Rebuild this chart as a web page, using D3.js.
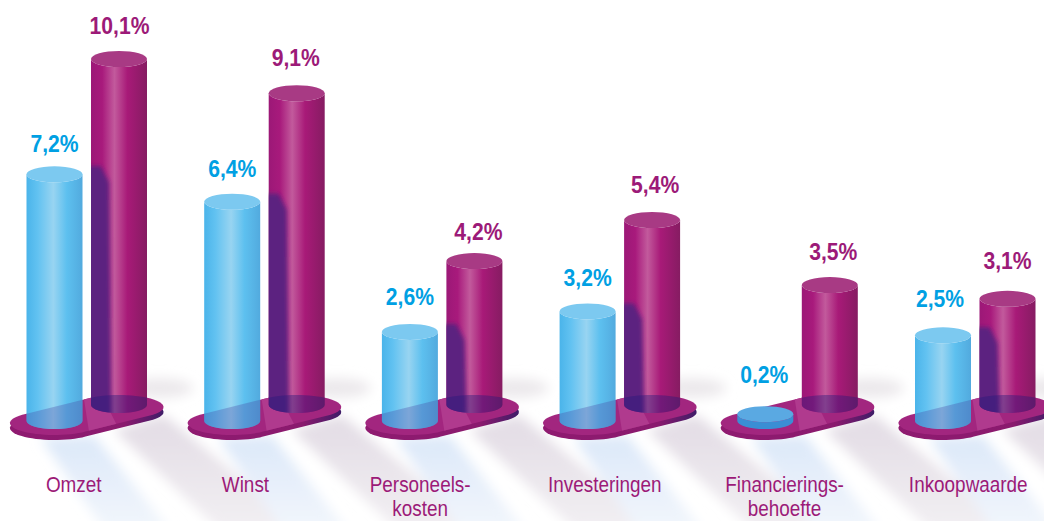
<!DOCTYPE html>
<html>
<head>
<meta charset="utf-8">
<script src="https://cdn.jsdelivr.net/npm/d3@7"></script>
<style>
  html, body { margin: 0; padding: 0; background: #fff; overflow: hidden; }
  svg { display: block; }
  text { text-anchor: middle; }
  .value { font: bold 24px "Liberation Sans", sans-serif; }
  .label { font: 22px "Liberation Sans", sans-serif; fill: #9c1a78; }
</style>
</head>
<body>
<div id="chart"></div>
<script>
const categories = ['Omzet', 'Winst', 'Personeels-|kosten', 'Investeringen', 'Financierings-|behoefte', 'Inkoopwaarde'];
const blueValues = [7.2, 6.4, 2.6, 3.2, 0.2, 2.5];
const purpleValues = [10.1, 9.1, 4.2, 5.4, 3.5, 3.1];

const width = 1044;
const height = 521;
const radius = 28;
const radiusY = 8;
const barGap = 32.25;
const blueFloor = 421;
const purpleFloor = 405;

// hand placed in the original, so nothing lines up exactly
const labelNudge = [-13, -19, -22, -15, -13, -7];
const blueTextNudge = [[0, -22], [0, -25], [0, -27], [0, -25], [-1, -31], [-3, -28]];
const purpleTextNudge = [[0.5, -25.5], [-1, -27], [4, -21], [3, -27], [3.5, -25], [0, -30]];

let fmt = v => `${String(v).replace('.', ',')}%`;

let svg = d3.select('#chart').append('svg')
  .attr('width', width)
  .attr('height', height);

let groupX = d3.scaleBand().domain(categories).range([-2.1, 1064.1]);
let barHeight = d3.scaleLinear().domain([0, 10.1]).range([0, 346]);

let center = d => groupX(d) + groupX.bandwidth() / 2;

let defs = svg.append('defs');

function addStops(gradient, stops) {
  gradient.selectAll('stop').data(stops).enter().append('stop')
    .attr('offset', d => d[0])
    .attr('stop-color', d => d[1]);
}
function hGradient(id, stops) {
  addStops(defs.append('linearGradient').attr('id', id), stops);
}
// shadows fade towards the bottom of the page
function shadowGradient(id, stops) {
  addStops(defs.append('linearGradient').attr('id', id)
    .attr('gradientUnits', 'userSpaceOnUse')
    .attr('x1', 0).attr('x2', 0).attr('y1', 430).attr('y2', height), stops);
}
hGradient('blueBody', [[0, '#4ab4ea'], [0.2, '#62c2f1'], [0.48, '#98d4f1'], [0.72, '#5dc0ef'], [1, '#52aade']]);
hGradient('purpleBody', [[0, '#9c1877'], [0.2, '#a81a7c'], [0.42, '#c25a9c'], [0.65, '#a81a78'], [1, '#861c62']]);
hGradient('baseSide', [[0, '#8f1a70'], [0.75, '#8a1a6e'], [1, '#3f1c68']]);
shadowGradient('blueShadow', [[0, '#dae7f8'], [1, '#f0f5fc']]);
shadowGradient('greyShadow', [[0, '#e4dee6'], [1, '#f1eef2']]);

defs.append('filter').attr('id', 'blur').attr('x', '-30%').attr('y', '-30%').attr('width', '160%').attr('height', '160%')
  .append('feGaussianBlur').attr('stdDeviation', 6);
defs.append('filter').attr('id', 'softEdge').attr('x', '-30%').attr('y', '-10%').attr('width', '160%').attr('height', '120%')
  .append('feGaussianBlur').attr('stdDeviation', 2);

function ellipsePoints(cx, cy, rx, ry) {
  return d3.range(0, 2 * Math.PI, 0.1).map(a => [cx + rx * Math.cos(a), cy + ry * Math.sin(a)]);
}

function basePath(i, shift) {
  let c = center(categories[i]);
  let pts = ellipsePoints(c - barGap, blueFloor + 2 + shift, 44.5, 12)
    .concat(ellipsePoints(c + barGap, purpleFloor + 2 + shift, 44.5, 12));
  return d3.line()(d3.polygonHull(pts)) + 'Z';
}

function cylinderPath(cx, floor, h) {
  let top = floor - h;
  return `M${cx - radius},${top} L${cx - radius},${floor} A${radius},${radiusY} 0 0 0 ${cx + radius},${floor} L${cx + radius},${top} A${radius},${radiusY} 0 0 1 ${cx - radius},${top} Z`;
}

// ground shadows first, they run under the next group
let shadows = svg.append('g').attr('filter', 'url(#blur)');
categories.forEach(d => {
  let c = center(d);
  let bx = c - barGap;
  let px = c + barGap;
  shadows.append('path')
    .attr('d', d3.line()([[bx - 14, 438], [bx + 40, 436], [bx + 115, 530], [bx + 50, 530]]))
    .attr('fill', 'url(#blueShadow)');
  shadows.append('path')
    .attr('d', d3.line()([[px - 5, 430], [px + 45, 415], [px + 185, 530], [px + 100, 530]]))
    .attr('fill', 'url(#greyShadow)');
  shadows.append('ellipse')
    .attr('cx', px + 40).attr('cy', 388).attr('rx', 34).attr('ry', 10)
    .attr('fill', '#ece9ec');
});

let groups = svg.selectAll('.group')
  .data(categories)
  .enter().append('g')
  .attr('class', 'group');

groups.each(function(d, i) {
  let g = d3.select(this);
  let c = center(d);
  let bx = c - barGap;
  let px = c + barGap;
  let bh = barHeight(blueValues[i]);
  let ph = barHeight(purpleValues[i]);

  defs.append('clipPath').attr('id', `purpleClip${i}`)
    .append('path').attr('d', cylinderPath(px, purpleFloor, ph) + ` M${px - radius},${purpleFloor - ph} A${radius},${radiusY} 0 0 1 ${px + radius},${purpleFloor - ph} A${radius},${radiusY} 0 0 1 ${px - radius},${purpleFloor - ph} Z`);
  defs.append('clipPath').attr('id', `baseClip${i}`)
    .append('path').attr('d', basePath(i, 0));

  // plate with the lighter band between the bars
  g.append('path').attr('d', basePath(i, 5)).attr('fill', 'url(#baseSide)');
  g.append('path').attr('d', basePath(i, 0)).attr('fill', '#a2267f');
  g.append('g').attr('clip-path', `url(#baseClip${i})`)
    .append('path')
    .attr('d', d3.line()([[bx + 28, purpleFloor - 15], [px - 20, purpleFloor - 15], [px + 6, blueFloor + 20], [bx + 36, blueFloor + 20]]))
    .attr('fill', '#b03a8e');

  // purple bar
  g.append('path').attr('d', cylinderPath(px, purpleFloor, ph)).attr('fill', 'url(#purpleBody)');
  if (blueValues[i] > 1) {
    g.append('g').attr('clip-path', `url(#purpleClip${i})`)
      .append('path')
      .attr('d', d3.line()([[px - radius - 8, blueFloor - bh - 8], [px - radius + 10, blueFloor - bh - 8], [px - 10, blueFloor - bh + 8], [px - 8, purpleFloor + 12], [px - radius - 8, purpleFloor + 12]]))
      .attr('fill', '#5c2080')
      .attr('filter', 'url(#softEdge)');
  }
  g.append('ellipse')
    .attr('cx', px).attr('cy', purpleFloor - ph).attr('rx', radius).attr('ry', radiusY)
    .attr('fill', '#a83a84');
  // foot of the purple bar where the plate shows through
  g.append('g').attr('clip-path', `url(#baseClip${i})`)
    .append('path').attr('d', cylinderPath(px, purpleFloor, ph))
    .attr('fill', '#241a7a').attr('opacity', 0.4);

  // blue bar
  if (blueValues[i] > 1) {
    g.append('path').attr('d', cylinderPath(bx, blueFloor, bh)).attr('fill', 'url(#blueBody)');
    g.append('ellipse')
      .attr('cx', bx).attr('cy', blueFloor - bh).attr('rx', radius).attr('ry', radiusY)
      .attr('fill', '#7cc9f0');
    g.append('g').attr('clip-path', `url(#baseClip${i})`)
      .append('path').attr('d', cylinderPath(bx, blueFloor, bh))
      .attr('fill', '#4a4fa8').attr('opacity', 0.35);
  } else {
    g.append('path').attr('d', cylinderPath(bx, blueFloor, bh)).attr('fill', '#3a8ed4');
    g.append('ellipse')
      .attr('cx', bx).attr('cy', blueFloor - bh).attr('rx', radius).attr('ry', radiusY)
      .attr('fill', '#5aa9e2');
  }

  // the font is wider than the original, so squeeze it
  g.append('text').attr('class', 'value')
    .attr('transform', `translate(${bx + blueTextNudge[i][0]},${blueFloor - bh + blueTextNudge[i][1]}) scale(0.88,1)`)
    .attr('fill', '#00a0e3')
    .text(fmt(blueValues[i]));
  g.append('text').attr('class', 'value')
    .attr('transform', `translate(${px + purpleTextNudge[i][0]},${purpleFloor - ph + purpleTextNudge[i][1]}) scale(0.88,1)`)
    .attr('fill', '#9c1a78')
    .text(fmt(purpleValues[i]));

  d.split('|').forEach((line, n) => {
    g.append('text').attr('class', 'label')
      .attr('transform', `translate(${c + labelNudge[i]},${492 + n * 24}) scale(0.86,1)`)
      .text(line);
  });
});
</script>
</body>
</html>
